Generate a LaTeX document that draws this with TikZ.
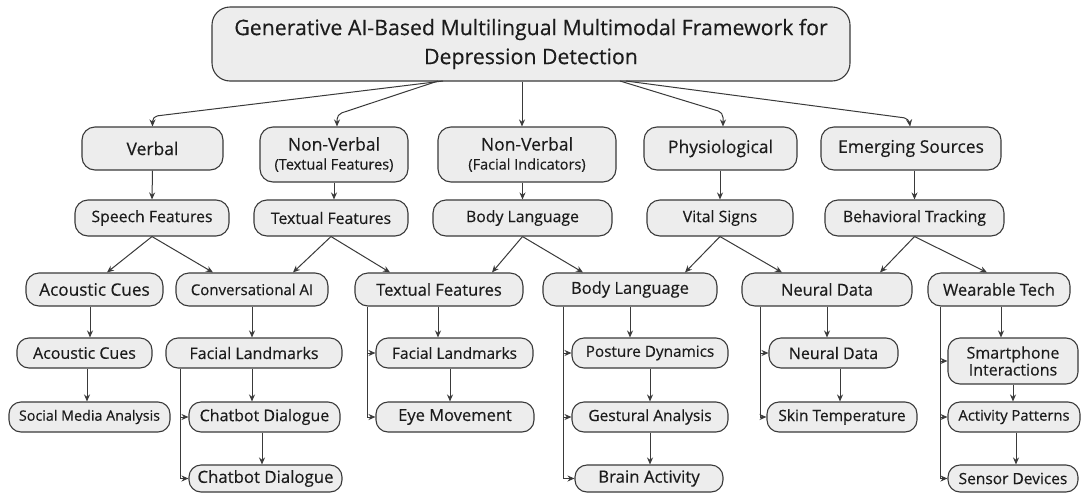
\documentclass[tikz,border=0pt]{standalone}
\usepackage{fontspec}
\setmainfont{Open Sans}[FakeBold=0.35]
\usetikzlibrary{arrows.meta,calc}
\definecolor{boxfill}{HTML}{EDEDED}
\definecolor{boxline}{HTML}{3A3A3A}
\definecolor{txt}{HTML}{1C1C1C}
\newcommand{\fs}[1]{\fontsize{#1}{#1}\selectfont}
\tikzset{
  box/.style={draw=boxline, fill=boxfill, line width=1.1pt, rounded corners=13pt, inner sep=0pt, align=center, text=txt},
  lone/.style={box, font=\fontsize{17.5}{20}\selectfont},
  ltwo/.style={box, font=\fs{15.8}, minimum height=36pt},
  lthree/.style={box, font=\fs{16.5}, minimum height=33pt},
  lfour/.style={box, font=\fontsize{16}{19}\selectfont, minimum height=30pt, rounded corners=12pt},
  arr/.style={draw=boxline, line width=1pt, -{Stealth[length=7pt,width=6pt]}},
}
\newcommand{\sub}[1]{{\fontsize{14.5}{16}\selectfont #1}}
\begin{document}
\begin{tikzpicture}[x=1pt,y=-1pt]
\useasboundingbox[fill=white] (0,0) rectangle (1081,493);
% title
\node[box, rounded corners=18pt, minimum width=638pt, minimum height=74pt, font=\fontsize{21.3}{29}\selectfont] (title) at (531,44) {Generative AI-Based Multilingual Multimodal Framework for\\Depression Detection};
% level 1
\node[lone, minimum width=141pt, minimum height=43pt] (verbal) at (152.5,148.5) {Verbal};
\node[lone, minimum width=148pt, minimum height=55pt] (nvt) at (334,154.5) {Non-Verbal\\[-1pt]\sub{(Textual Features)}};
\node[lone, minimum width=178pt, minimum height=55pt] (nvf) at (527,154.5) {Non-Verbal\\[-1pt]\sub{(Facial Indicators)}};
\node[lone, minimum width=153pt, minimum height=43pt] (phys) at (720.5,148.5) {Physiological};
\node[lone, minimum width=180pt, minimum height=43pt] (emerg) at (911,148.5) {Emerging Sources};
% level 2
\node[ltwo, minimum width=154pt] (speech) at (152,218) {Speech Features};
\node[ltwo, minimum width=154pt] (textf) at (331,218) {Textual Features};
\node[ltwo, minimum width=179pt] (bodyl) at (522.5,218) {Body Language};
\node[ltwo, minimum width=146pt] (vital) at (720,218) {Vital Signs};
\node[ltwo, minimum width=179pt] (behav) at (914.5,218) {Behavioral Tracking};
% level 3
\node[lthree, minimum width=137pt, font=\fs{17.2}] (acou) at (94.5,289.5) {Acoustic Cues};
\node[lthree, minimum width=152pt, font=\fs{15}] (conv) at (252,289.5) {Conversational AI};
\node[lthree, minimum width=168pt] (text3) at (439,289.5) {Textual Features};
\node[lthree, minimum width=174pt] (body3) at (630,289.5) {Body Language};
\node[lthree, minimum width=170pt] (neural) at (827,289.5) {Neural Data};
\node[lthree, minimum width=142pt] (wear) at (999,289.5) {Wearable Tech};
% level 4
\node[lfour, minimum width=135pt] (acou2) at (84.5,353) {Acoustic Cues};
\node[lfour, minimum width=176pt] (facial) at (254,353) {Facial Landmarks};
\node[lfour, minimum width=157pt, font=\fs{15.5}] (facial3) at (454.5,353) {Facial Landmarks};
\node[lfour, minimum width=156pt, font=\fs{15.3}] (posture) at (650,353) {Posture Dynamics};
\node[lfour, minimum width=129pt] (neural2) at (833.5,353) {Neural Data};
\node[lfour, minimum width=130pt, minimum height=46pt, font=\fontsize{16}{17}\selectfont] (smart) at (1013,361) {Smartphone\\Interactions};
% level 5
\node[lfour, minimum width=161pt, font=\fs{14.3}] (social) at (89.5,417) {Social Media Analysis};
\node[lfour, minimum width=151pt] (chat1) at (264.5,417) {Chatbot Dialogue};
\node[lfour, minimum width=158pt, font=\fs{16.5}] (eye) at (455,417) {Eye Movement};
\node[lfour, minimum width=156pt, font=\fs{15.5}] (gest) at (650,417) {Gestural Analysis};
\node[lfour, minimum width=150pt, font=\fs{15.5}] (skin) at (842,417) {Skin Temperature};
\node[lfour, minimum width=132pt, font=\fs{14.8}] (activity) at (1014,417) {Activity Patterns};
% level 6
\node[lfour, minimum width=153pt, minimum height=27pt, font=\fs{16.8}] (chat2) at (265.5,478.5) {Chatbot Dialogue};
\node[lfour, minimum width=148pt, minimum height=27pt, font=\fs{16.8}] (brain) at (649,478.5) {Brain Activity};
\node[lfour, minimum width=130pt, minimum height=27pt, font=\fs{15.5}] (sensor) at (1013,478.5) {Sensor Devices};
% title connectors
\coordinate (tA) at (443,81);
\coordinate (tB) at (438,81);
\coordinate (tC) at (620,81);
\coordinate (tD) at (626,81);
\draw[arr, rounded corners=5pt] (tA) -- ([yshift=10pt]verbal.north) -- (verbal.north);
\draw[arr, rounded corners=5pt] (tB) -- ([xshift=3pt,yshift=12pt]nvt.north) -- ([xshift=3pt]nvt.north);
\draw[arr] (title.south -| 522,0) -- (nvf.north -| 522,0);
\draw[arr, rounded corners=5pt] (tC) -- ([xshift=2.5pt,yshift=14pt]phys.north) -- ([xshift=2.5pt]phys.north);
\draw[arr, rounded corners=5pt] (tD) -- ([xshift=-2pt,yshift=8pt]emerg.north) -- ([xshift=-1pt]emerg.north);
% level 1 -> 2
\draw[arr] (verbal.south) -- (speech.north);
\draw[arr] (nvt.south) -- (textf.north -| nvt.south);
\draw[arr] (nvf.south -| bodyl.north) -- (bodyl.north);
\draw[arr] (phys.south -| vital.north) -- (vital.north);
\draw[arr] (emerg.south -| behav.north) -- (behav.north);
% level 2 -> 3
\draw[arr] (speech.south) -- (acou.north -| 107,0);
\draw[arr] (speech.south) -- (conv.north -| 213,0);
\draw[arr] (textf.south) -- (conv.north -| 293,0);
\draw[arr] (textf.south) -- (text3.north -| 390,0);
\draw[arr] (bodyl.south) -- (text3.north -| 492,0);
\draw[arr] (bodyl.south) -- (body3.north -| 583,0);
\draw[arr] (vital.south) -- (body3.north -| 685,0);
\draw[arr] (vital.south) -- (neural.north -| 782,0);
\draw[arr] (behav.south) -- (neural.north -| 880,0);
\draw[arr] (behav.south) -- (wear.north -| 987,0);
% column 1
\draw[arr] (acou.south -| 90,0) -- (acou2.north -| 90,0);
\draw[arr] (acou2.south -| 87,0) -- (social.north -| 87,0);
% column 2
\draw[arr] (conv.south) -- (facial.north -| conv.south);
\draw[arr] (facial.south -| 252,0) -- (chat1.north -| 252,0);
\draw[arr] (chat1.south -| 262,0) -- (chat2.north -| 262,0);
\draw[arr] (facial.south -| 180,0) |- (chat1.west);
\draw[arr] (facial.south -| 180,0) |- (chat2.west);
% column 3
\draw[arr] (text3.south -| 438,0) -- (facial3.north -| 438,0);
\draw[arr] (facial3.south -| 450,0) -- (eye.north -| 450,0);
\draw[arr] (text3.south -| 367,0) |- (facial3.west);
\draw[arr] (text3.south -| 367,0) |- (eye.west);
% column 4
\draw[arr] (body3.south) -- (posture.north -| body3.south);
\draw[arr] (posture.south) -- (gest.north);
\draw[arr] (gest.south) -- (brain.north -| gest.south);
\draw[arr] (body3.south -| 563,0) |- (posture.west);
\draw[arr] (body3.south -| 563,0) |- (gest.west);
\draw[arr] (body3.south -| 563,0) |- (brain.west);
% column 5
\draw[arr] (neural.south) -- (neural2.north -| neural.south);
\draw[arr] (neural2.south -| 840,0) -- (skin.north -| 840,0);
\draw[arr] (neural.south -| 760,0) |- (neural2.west);
\draw[arr] (neural.south -| 760,0) |- (skin.west);
% column 6
\draw[arr] (wear.south -| 1001,0) -- (smart.north -| 1001,0);
\draw[arr] (smart.south) -- (activity.north -| smart.south);
\draw[arr] (activity.south -| 1016,0) -- (sensor.north -| 1016,0);
\draw[arr] (wear.south -| 940,0) |- (smart.west);
\draw[arr] (wear.south -| 940,0) |- (activity.west);
\draw[arr] (wear.south -| 940,0) |- (sensor.west);
\end{tikzpicture}
\end{document}
